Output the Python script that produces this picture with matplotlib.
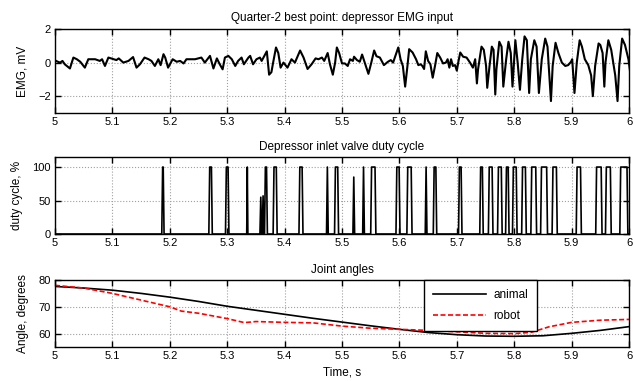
import numpy as np
import matplotlib
matplotlib.use("Agg")
import matplotlib.pyplot as plt
from matplotlib.ticker import FormatStrFormatter, MultipleLocator

plt.rcParams["font.family"] = ["Liberation Sans", "DejaVu Sans"]
plt.rcParams["font.size"] = 8

# EMG trace, vertices (time s, mV)
emg_t = [
    5.000, 5.005, 5.009, 5.013, 5.017, 5.026, 5.032, 5.038, 5.044, 5.052,
    5.058, 5.070, 5.078, 5.082, 5.087, 5.093, 5.102, 5.107, 5.111, 5.119,
    5.128, 5.136, 5.142, 5.148, 5.156, 5.163, 5.168, 5.174, 5.180, 5.184,
    5.189, 5.192, 5.197, 5.205, 5.212, 5.218, 5.224, 5.229, 5.244, 5.255,
    5.261, 5.270, 5.276, 5.282, 5.287, 5.292, 5.296, 5.302, 5.308, 5.314,
    5.319, 5.325, 5.329, 5.337, 5.340, 5.345, 5.351, 5.357, 5.360, 5.369,
    5.373, 5.377, 5.380, 5.385, 5.389, 5.393, 5.398, 5.405, 5.412, 5.418,
    5.427, 5.433, 5.440, 5.447, 5.454, 5.459, 5.465, 5.469, 5.475, 5.479,
    5.484, 5.488, 5.491, 5.495, 5.500, 5.505, 5.510, 5.514, 5.519, 5.521,
    5.526, 5.531, 5.535, 5.540, 5.546, 5.551, 5.556, 5.560, 5.566, 5.573,
    5.580, 5.585, 5.589, 5.598, 5.602, 5.606, 5.610, 5.614, 5.617, 5.623,
    5.629, 5.633, 5.637, 5.640, 5.643, 5.646, 5.650, 5.654, 5.658, 5.662,
    5.666, 5.671, 5.676, 5.681, 5.684, 5.687, 5.690, 5.693, 5.697, 5.700,
    5.703, 5.706, 5.711, 5.717, 5.723, 5.728, 5.732, 5.735, 5.737, 5.743,
    5.747, 5.751, 5.753, 5.757, 5.761, 5.764, 5.767, 5.769, 5.774, 5.778,
    5.781, 5.786, 5.790, 5.794, 5.797, 5.802, 5.806, 5.810, 5.814, 5.818,
    5.822, 5.826, 5.829, 5.835, 5.839, 5.843, 5.848, 5.854, 5.858, 5.864,
    5.867, 5.872, 5.877, 5.883, 5.889, 5.894, 5.899, 5.901, 5.905, 5.909,
    5.914, 5.918, 5.923, 5.929, 5.934, 5.937, 5.941, 5.947, 5.950, 5.954,
    5.957, 5.959, 5.964, 5.969, 5.976, 5.980, 5.983, 5.988, 5.993, 5.999,
    6.002,
]
emg_v = [
    0.13, 0.05, 0.00, 0.10, -0.10, -0.35, 0.30, 0.20, 0.05, -0.30,
    0.20, 0.20, 0.10, 0.20, -0.20, 0.30, 0.20, 0.15, 0.25, 0.00,
    0.10, 0.33, -0.30, -0.10, 0.30, 0.20, 0.10, -0.20, 0.20, -0.15,
    0.50, 0.30, -0.30, 0.20, 0.05, 0.10, -0.05, 0.20, 0.20, 0.30,
    0.00, 0.40, -0.35, 0.25, -0.10, -0.40, 0.30, 0.40, 0.20, -0.20,
    0.10, 0.30, -0.10, 0.30, 0.40, -0.10, 0.20, 0.30, 0.10, 0.67,
    -0.72, -0.57, 0.00, 0.90, 0.57, -0.30, 0.00, -0.30, 0.20, 0.00,
    0.72, 0.30, -0.38, -0.10, 0.25, 0.20, 0.30, 0.10, 0.57, -0.10,
    -0.72, 0.00, 0.90, 0.57, -0.05, -0.05, -0.20, 0.20, 0.10, 0.35,
    0.15, 0.05, 0.48, -0.05, -0.67, 0.00, 0.72, 0.38, 0.30, -0.15,
    0.05, 0.15, 0.00, 0.90, 0.20, -0.20, -1.43, -0.20, 0.80, 0.60,
    0.20, -0.15, -0.10, -0.20, -0.38, 0.67, 0.10, -0.10, -0.90, -0.20,
    0.57, 0.30, -0.05, 0.00, 0.20, -0.30, 0.20, -0.20, -0.15, -0.48,
    0.10, 0.60, 0.35, 0.30, 0.00, -0.30, 0.20, -1.24, -0.40, 0.95,
    0.76, -0.20, -1.50, -0.20, 0.95, 0.76, -1.90, -0.40, 1.24, 0.95,
    -1.43, 0.20, 1.24, 0.57, -1.43, 1.33, 0.00, -1.62, 0.20, 1.56,
    1.33, -1.81, 0.20, 1.33, 0.95, -1.81, 0.20, 1.43, 0.95, -2.29,
    -0.20, 1.18, 0.57, 0.00, -0.20, -0.15, 0.05, 0.20, -1.81, 0.00,
    1.33, 0.95, 0.20, -0.15, -0.76, -2.00, -0.20, 1.14, 1.05, 0.57,
    -1.43, 0.00, 1.33, 0.76, -0.76, -2.29, -0.20, 1.43, 1.05, 0.20,
    -0.57,
]

# valve pulses: start, end, peak duty (%)
pulse_on = [5.186, 5.268, 5.297, 5.334, 5.357, 5.361, 5.365, 5.380, 5.425,
            5.473, 5.487, 5.519, 5.536, 5.550, 5.594, 5.613, 5.645, 5.659,
            5.703, 5.740, 5.755, 5.771, 5.785, 5.797, 5.813, 5.829, 5.846,
            5.866, 5.908, 5.942, 5.959, 5.984]
pulse_off = [5.190, 5.274, 5.303, 5.336, 5.360, 5.364, 5.370, 5.387, 5.432,
             5.476, 5.494, 5.522, 5.539, 5.559, 5.601, 5.622, 5.648, 5.665,
             5.709, 5.746, 5.763, 5.779, 5.791, 5.805, 5.821, 5.839, 5.858,
             5.875, 5.917, 5.953, 5.969, 5.998]
pulse_level = [100, 100, 100, 100, 55, 57, 100, 100, 100,
               100, 100, 85, 100, 100, 100, 100, 100, 100,
               100, 100, 100, 100, 100, 100, 100, 100, 100,
               100, 100, 100, 100, 100]

# joint angles (degrees)
animal_t = [5.0, 5.05, 5.1, 5.15, 5.2, 5.25, 5.3, 5.35, 5.4, 5.45, 5.5,
            5.55, 5.6, 5.65, 5.7, 5.75, 5.8, 5.85, 5.9, 5.95, 6.0]
animal_deg = [77.6, 77.0, 76.2, 75.0, 73.6, 72.0, 70.2, 68.7, 67.2, 65.7, 64.3,
              62.9, 61.6, 60.4, 59.6, 59.1, 59.0, 59.2, 60.1, 61.2, 62.6]
robot_t = [5.0, 5.05, 5.1, 5.15, 5.2, 5.22, 5.25, 5.3, 5.33, 5.35, 5.4,
           5.45, 5.5, 5.55, 5.6, 5.65, 5.7, 5.75, 5.8, 5.83, 5.86, 5.9,
           5.95, 6.0]
robot_deg = [78.0, 77.0, 75.0, 72.5, 70.0, 68.4, 67.6, 65.6, 64.1, 64.5, 64.2,
             64.0, 62.8, 62.0, 61.6, 61.2, 60.7, 60.1, 60.0, 60.5, 62.5, 64.2,
             65.0, 65.3]


def duty_trace(on, off, level, ramp=0.0015):
    xs, ys = [5.0], [0.0]
    for a, b, lv in zip(on, off, level):
        r = min(ramp, (b - a) / 2)
        xs += [a, a + r, b - r, b]
        ys += [0, lv, lv, 0]
    xs.append(6.0)
    ys.append(0.0)
    return xs, ys


def style_axes(ax):
    ax.set_xlim(5, 6)
    ax.xaxis.set_major_locator(MultipleLocator(0.1))
    ax.xaxis.set_major_formatter(FormatStrFormatter("%g"))
    ax.tick_params(direction="in", top=True, right=True, length=4,
                   width=1, labelsize=8, pad=3)
    ax.grid(True, linestyle=":", color="#a0a0a0", linewidth=0.8)
    for s in ax.spines.values():
        s.set_linewidth(1)


fig = plt.figure(figsize=(6.33, 3.81), dpi=100)
ax1 = fig.add_axes([0.0869, 0.7034, 0.9068, 0.2205])
ax2 = fig.add_axes([0.0869, 0.3858, 0.9068, 0.2021])
ax3 = fig.add_axes([0.0869, 0.0892, 0.9068, 0.1759])

ax1.plot(emg_t, emg_v, color="black", linewidth=1.5)
ax1.set_ylim(-3, 2)
ax1.set_yticks([-2, 0, 2])
ax1.set_ylabel("EMG, mV", fontsize=8.5, labelpad=7)
ax1.set_title("Quarter-2 best point: depressor EMG input", fontsize=8.5, pad=6)
style_axes(ax1)

dx, dy = duty_trace(pulse_on, pulse_off, pulse_level)
ax2.plot(dx, dy, color="black", linewidth=1.2)
ax2.set_ylim(0, 115)
ax2.set_yticks([0, 50, 100])
ax2.set_ylabel("duty cycle, %", fontsize=8.5, labelpad=7)
ax2.set_title("Depressor inlet valve duty cycle", fontsize=8.5, pad=5)
style_axes(ax2)

ax3.plot(animal_t, animal_deg, color="black", linewidth=1.2, label="animal")
ax3.plot(robot_t, robot_deg, color="red", linestyle="--", linewidth=1.2,
         dashes=(3, 1.5), label="robot")
ax3.set_ylim(55, 80)
ax3.set_yticks([60, 70, 80])
ax3.set_ylabel("Angle, degrees", fontsize=8.5, labelpad=7)
ax3.set_xlabel("Time, s", fontsize=8.5, labelpad=4)
ax3.set_title("Joint angles", fontsize=8.5, pad=5)
style_axes(ax3)
leg = ax3.legend(loc="upper left", bbox_to_anchor=(0.643, 1.0), fancybox=False,
                 edgecolor="black", framealpha=1, fontsize=8.5, handlelength=4.5,
                 handletextpad=0.6, labelspacing=0.75, borderpad=0.75,
                 borderaxespad=0)
leg.get_frame().set_linewidth(1)

fig.savefig("out.png", dpi=100)
